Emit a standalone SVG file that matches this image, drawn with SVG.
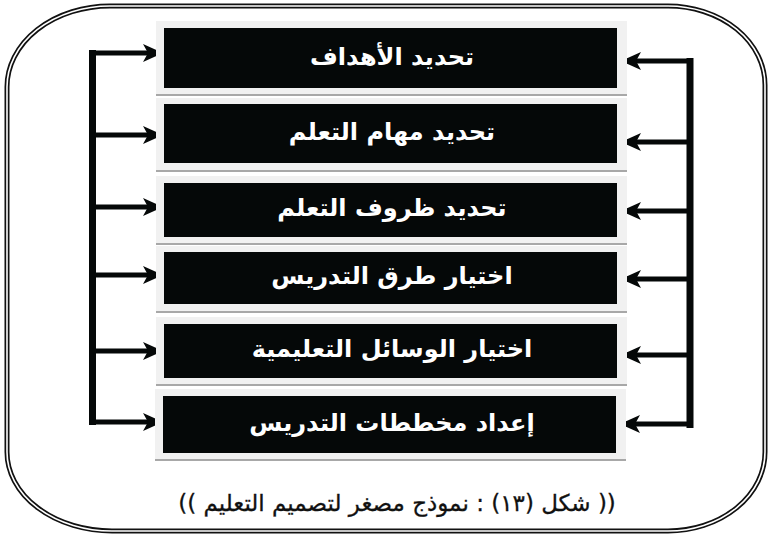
<svg xmlns="http://www.w3.org/2000/svg" width="768" height="535" viewBox="0 0 768 535">
<defs>
<style>
.frame-o{fill:none;stroke:#111;stroke-width:5}
.frame-i{fill:none;stroke:#fff;stroke-width:1.6}
.plate{fill:#f1f1f1}
.shade{fill:#a8a8a8}
.box{fill:#050808}
.lbl{font-family:"DejaVu Sans",sans-serif;font-weight:bold;font-size:24px;fill:#fff;text-anchor:middle;dominant-baseline:central;direction:rtl}
.cap{font-family:"DejaVu Sans",sans-serif;font-size:23px;fill:#111;stroke:#111;stroke-width:0.3;text-anchor:middle;direction:rtl}
.h{fill:none;stroke:#050808;stroke-width:5;marker-end:url(#ah)}
.v{fill:none;stroke:#050808;stroke-width:7}
</style>
<marker id="ah" markerUnits="userSpaceOnUse" markerWidth="24" markerHeight="22" viewBox="-22 -11 24 22" refX="0" refY="0" orient="auto">
<path d="M0,0 L-20,-9 L-15,0 L-20,9 Z" fill="#050808"/>
</marker>
</defs>
<g id="frame">
<path class="frame-o" d="M110,6 H668 A97,79 0 0 1 765,85 V452 A97,79 0 0 1 668,531 H112 A105,79 0 0 1 7,452 V87 A103,81 0 0 1 110,6 Z"/>
<path class="frame-i" d="M110,6 H668 A97,79 0 0 1 765,85 V452 A97,79 0 0 1 668,531 H112 A105,79 0 0 1 7,452 V87 A103,81 0 0 1 110,6 Z"/>
</g>
<g id="connectors">
<path class="v" d="M92.5,50 V425"/>
<path class="v" d="M690,58 V428"/>
<path class="h" d="M89,53 H163"/>
<path class="h" d="M92,135 H163"/>
<path class="h" d="M92,207 H163"/>
<path class="h" d="M92,275 H163"/>
<path class="h" d="M92,351 H163"/>
<path class="h" d="M89,422 H163"/>
<path class="h" d="M693,61 H621"/>
<path class="h" d="M690,142 H621"/>
<path class="h" d="M690,211 H621"/>
<path class="h" d="M690,279 H621"/>
<path class="h" d="M690,355 H621"/>
<path class="h" d="M693,424 H620"/>
</g>
<g id="n1">
<rect class="plate" x="156" y="21" width="471" height="74"/>
<rect class="shade" x="156" y="94" width="471" height="2"/>
<rect class="box" x="164" y="28" width="453" height="60"/>
<text class="lbl" x="392" y="57">تحديد الأهداف</text>
</g>
<g id="n2">
<rect class="plate" x="156" y="98" width="471" height="72"/>
<rect class="shade" x="156" y="170" width="471" height="2"/>
<rect class="box" x="164" y="104" width="453" height="59"/>
<text class="lbl" x="392" y="132">تحديد مهام التعلم</text>
</g>
<g id="n3">
<rect class="plate" x="156" y="176" width="471" height="67"/>
<rect class="shade" x="156" y="243" width="471" height="2"/>
<rect class="box" x="164" y="183" width="453" height="54"/>
<text class="lbl" x="392" y="208">تحديد ظروف التعلم</text>
</g>
<g id="n4">
<rect class="plate" x="156" y="246" width="471" height="65"/>
<rect class="shade" x="156" y="311" width="471" height="2"/>
<rect class="box" x="164" y="252" width="453" height="52"/>
<text class="lbl" x="392" y="276">اختيار طرق التدريس</text>
</g>
<g id="n5">
<rect class="plate" x="156" y="317" width="471" height="67"/>
<rect class="shade" x="156" y="384" width="471" height="2"/>
<rect class="box" x="164" y="324" width="453" height="54"/>
<text class="lbl" x="392" y="349">اختيار الوسائل التعليمية</text>
</g>
<g id="n6">
<rect class="plate" x="155" y="389" width="471" height="71"/>
<rect class="shade" x="155" y="459" width="471" height="2"/>
<rect class="box" x="163" y="396" width="453" height="57"/>
<text class="lbl" x="392" y="423">إعداد مخططات التدريس</text>
</g>
<text class="cap" x="397" y="511">(( شكل (١٣) : نموذج مصغر لتصميم التعليم ))</text>
</svg>
